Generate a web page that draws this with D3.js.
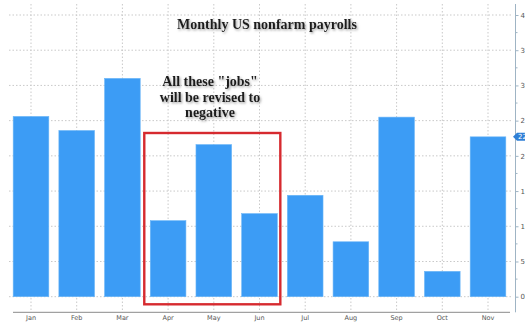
<!DOCTYPE html>
<html>
<head>
<meta charset="utf-8">
<script src="https://cdn.jsdelivr.net/npm/d3@7"></script>
<style>
  html, body { margin: 0; padding: 0; background: #fff; overflow: hidden; }
  svg { display: block; }
</style>
</head>
<body>
<svg id="chart" width="525" height="322"></svg>
<script>
// Monthly nonfarm payroll changes (thousands), as first reported
const months = ["Jan", "Feb", "Mar", "Apr", "May", "Jun", "Jul", "Aug", "Sep", "Oct", "Nov"];
const payrolls = [256, 236, 310, 108, 216, 118, 144, 78, 255, 36, 227];
const yTicks = [0, 50, 100, 150, 200, 250, 300, 350, 400];
const highlighted = ["Apr", "May", "Jun"];
const titleText = "Monthly US nonfarm payrolls";
const noteLines = ["All these \"jobs\"", "will be revised to", "negative"];

const svg = d3.select("#chart");

const x = d3.scaleBand().domain(months).range([8.15, 510.85])
  .paddingInner(0.22).paddingOuter(0.11);
const y = d3.scaleLinear().domain([0, 400]).range([296.7, 15]);

// soft shadow used by the serif captions
const defs = svg.append("defs");
const f = defs.append("filter").attr("id", "shadow")
  .attr("x", "-10%").attr("y", "-30%").attr("width", "130%").attr("height", "180%");
f.append("feDropShadow").attr("dx", 1.2).attr("dy", 1.4)
  .attr("stdDeviation", 1.1).attr("flood-color", "#777").attr("flood-opacity", 0.7);

const gridColor = "#c9c9c9";
const plotLeft = 9, plotRight = 513, axisY = 312.3;

// horizontal dotted gridlines
svg.append("g").selectAll("line").data(yTicks).join("line")
  .attr("x1", plotLeft).attr("x2", plotRight)
  .attr("y1", d => y(d)).attr("y2", d => y(d))
  .attr("stroke", gridColor).attr("stroke-width", 1)
  .attr("stroke-dasharray", "1.5,2");

// vertical dotted gridlines at month centres
svg.append("g").selectAll("line").data(months).join("line")
  .attr("x1", d => x(d) + x.bandwidth() / 2).attr("x2", d => x(d) + x.bandwidth() / 2)
  .attr("y1", 4).attr("y2", axisY)
  .attr("stroke", gridColor).attr("stroke-width", 1)
  .attr("stroke-dasharray", "1.5,2");

// bars
svg.append("g").selectAll("rect").data(months).join("rect")
  .attr("x", d => x(d))
  .attr("width", x.bandwidth())
  .attr("y", (d, i) => y(payrolls[i]))
  .attr("height", (d, i) => y(0) - y(payrolls[i]))
  .attr("fill", "#3c9cf5")
  .attr("stroke", "#6cb6f7").attr("stroke-width", 0.6);

// right value axis (labels run off the right edge of the frame)
const yAxis = d3.axisRight(y).tickValues(yTicks).tickSize(3).tickPadding(2);
const gy = svg.append("g").attr("transform", "translate(515.5,0)").call(yAxis);
gy.select(".domain").attr("stroke", "#9fb4c4").attr("d", `M0,4V${axisY}`);
gy.selectAll(".tick line").attr("stroke", "#9fb4c4");
gy.selectAll(".tick text").attr("fill", "#555").style("font", "7px 'DejaVu Sans', sans-serif");
// minor ticks
svg.append("g").selectAll("line").data(d3.range(25, 400, 50)).join("line")
  .attr("x1", 515.5).attr("x2", 517.5)
  .attr("y1", d => y(d)).attr("y2", d => y(d))
  .attr("stroke", "#9fb4c4");

// last value tag
const lastVal = payrolls[payrolls.length - 1];
const ty = y(lastVal);
svg.append("path")
  .attr("d", `M513,${ty} L517,${ty - 4} L530,${ty - 4} L530,${ty + 4} L517,${ty + 4} Z`)
  .attr("fill", "#2f7fd6");
svg.append("text").attr("x", 518).attr("y", ty + 2.5)
  .attr("fill", "#fff").style("font", "7px 'DejaVu Sans', sans-serif")
  .text(lastVal);

// bottom category axis
const xAxis = d3.axisBottom(x).tickSize(0).tickPadding(3);
const gx = svg.append("g").attr("transform", `translate(0,${axisY})`).call(xAxis);
gx.select(".domain").attr("stroke", "#8a8a8a").attr("d", `M13,0H510`);
gx.selectAll(".tick text").attr("fill", "#555").style("font", "6.5px 'DejaVu Sans', sans-serif");

// highlight box around the revised months
const hx0 = x(highlighted[0]) - 6;
const hx1 = x(highlighted[highlighted.length - 1]) + x.bandwidth() + 3;
svg.append("rect")
  .attr("x", hx0).attr("y", 133)
  .attr("width", hx1 - hx0).attr("height", 304.3 - 133)
  .attr("fill", "none").attr("stroke", "#d62a2f").attr("stroke-width", 2.4);

// title
svg.append("text")
  .attr("x", 267).attr("y", 29)
  .attr("text-anchor", "middle")
  .attr("filter", "url(#shadow)")
  .style("font", "bold 14px 'Liberation Serif', serif")
  .attr("fill", "#1a1a1a")
  .text(titleText);

// annotation
svg.append("g").selectAll("text").data(noteLines).join("text")
  .attr("x", 210).attr("y", (d, i) => 86 + i * 15.5)
  .attr("text-anchor", "middle")
  .attr("filter", "url(#shadow)")
  .style("font", "bold 14px 'Liberation Serif', serif")
  .attr("fill", "#1a1a1a")
  .text(d => d);
</script>
</body>
</html>
